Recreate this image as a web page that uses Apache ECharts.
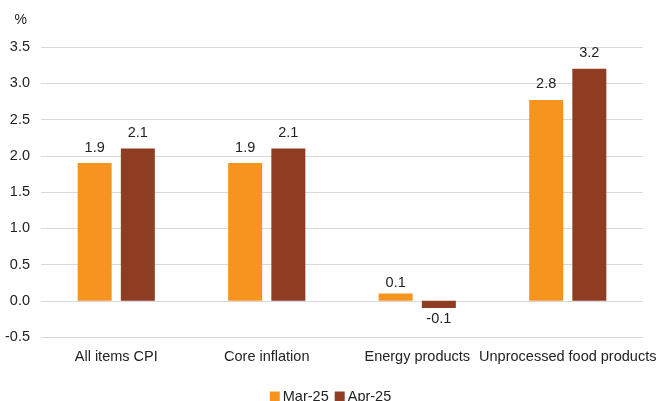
<!DOCTYPE html>
<html>
<head>
<meta charset="utf-8">
<script src="https://cdn.jsdelivr.net/npm/echarts@6/dist/echarts.min.js"></script>
<style>
  html, body { margin: 0; padding: 0; background: #fff; }
  #chart { width: 661px; height: 401px; }
</style>
</head>
<body>
<div id="chart"></div>
<script>
const categories = ['All items CPI', 'Core inflation', 'Energy products', 'Unprocessed food products']
const mar25 = [1.9, 1.9, 0.1, 2.77]
const apr25 = [2.1, 2.1, -0.1, 3.2]
const seriesNames = ['Mar-25', 'Apr-25']

const font = 'Liberation Sans'

// negative bars get their label underneath
const toItems = (arr) => arr.map(v => ({
    value: v,
    label: {
        position: v < 0 ? 'bottom' : 'top',
        distance: Math.abs(v) < 0.5 ? 3 : 8,
    },
}))

const barLabel = {
    show: true,
    fontSize: 14.5,
    fontFamily: font,
    color: '#222',
    formatter: p => p.value.toFixed(1),
}

const option = {
    animation: false,
    textStyle: { fontFamily: font },
    grid: {
        left: 41,
        right: 18,
        top: 47,
        bottom: 64,
    },
    legend: {
        top: 384,
        left: 'center',
        itemWidth: 10,
        itemHeight: 10,
        itemGap: 6,
        icon: 'rect',
        textStyle: { fontSize: 14.5, color: '#222', fontFamily: font, padding: [0, 0, 0, -2] },
        data: seriesNames,
    },
    xAxis: {
        type: 'category',
        data: categories,
        axisLine: { show: false, onZero: false },
        axisTick: { show: false },
        axisLabel: { fontSize: 14.5, color: '#222', margin: 12, interval: 0 },
    },
    yAxis: {
        type: 'value',
        min: -0.5,
        max: 3.5,
        interval: 0.5,
        name: '%',
        nameLocation: 'end',
        nameGap: 20,
        nameTextStyle: { fontSize: 14, color: '#222', align: 'right', padding: [0, 14, 0, 0] },
        axisLabel: {
            fontSize: 14.5,
            color: '#222',
            margin: 11,
            formatter: v => v.toFixed(1),
        },
        splitLine: { lineStyle: { color: '#d9d9d9', width: 1 } },
    },
    series: [
        {
            name: seriesNames[0],
            type: 'bar',
            data: toItems(mar25),
            barWidth: 34,
            barGap: '27%',
            itemStyle: { color: '#F7941F' },
            label: barLabel,
        },
        {
            name: seriesNames[1],
            type: 'bar',
            data: toItems(apr25),
            barWidth: 34,
            itemStyle: { color: '#8F3D22' },
            label: barLabel,
        },
    ],
}

const chart = echarts.init(document.getElementById('chart'))
chart.setOption(option)
</script>
</body>
</html>
